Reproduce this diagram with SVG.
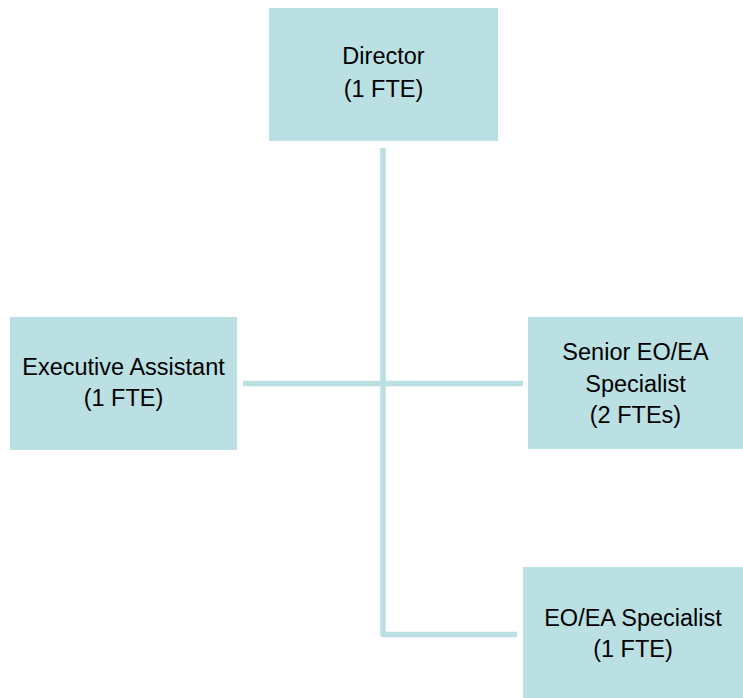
<svg xmlns="http://www.w3.org/2000/svg" width="743" height="698" viewBox="0 0 743 698">
  <style>
    .box { fill: #bbe0e3; }
    .lbl { font-family: "Liberation Sans", Arial, sans-serif; font-size: 23.5px; fill: #000; text-anchor: middle; }
    .conn { fill: none; stroke: #bbe0e3; stroke-width: 5.5; stroke-linejoin: round; }
  </style>
  <rect width="743" height="698" fill="#fff"/>

  <g id="connectors">
    <path class="conn" d="M383 148 V634.5 H517"/>
    <path class="conn" d="M243 383.5 H523"/>
  </g>

  <g id="director">
    <rect class="box" x="269" y="8" width="229" height="133"/>
    <text class="lbl" x="383.5" y="64">Director</text>
    <text class="lbl" x="383.5" y="97">(1 FTE)</text>
  </g>

  <g id="executive-assistant">
    <rect class="box" x="10" y="317" width="227" height="133"/>
    <text class="lbl" x="123.5" y="375">Executive Assistant</text>
    <text class="lbl" x="123.5" y="406">(1 FTE)</text>
  </g>

  <g id="senior-specialist">
    <rect class="box" x="528" y="317" width="215" height="132"/>
    <text class="lbl" x="635.5" y="360">Senior EO/EA</text>
    <text class="lbl" x="635.5" y="391.5">Specialist</text>
    <text class="lbl" x="635.5" y="423">(2 FTEs)</text>
  </g>

  <g id="specialist">
    <rect class="box" x="523" y="567" width="220" height="131"/>
    <text class="lbl" x="633" y="626">EO/EA Specialist</text>
    <text class="lbl" x="633" y="657">(1 FTE)</text>
  </g>
</svg>
